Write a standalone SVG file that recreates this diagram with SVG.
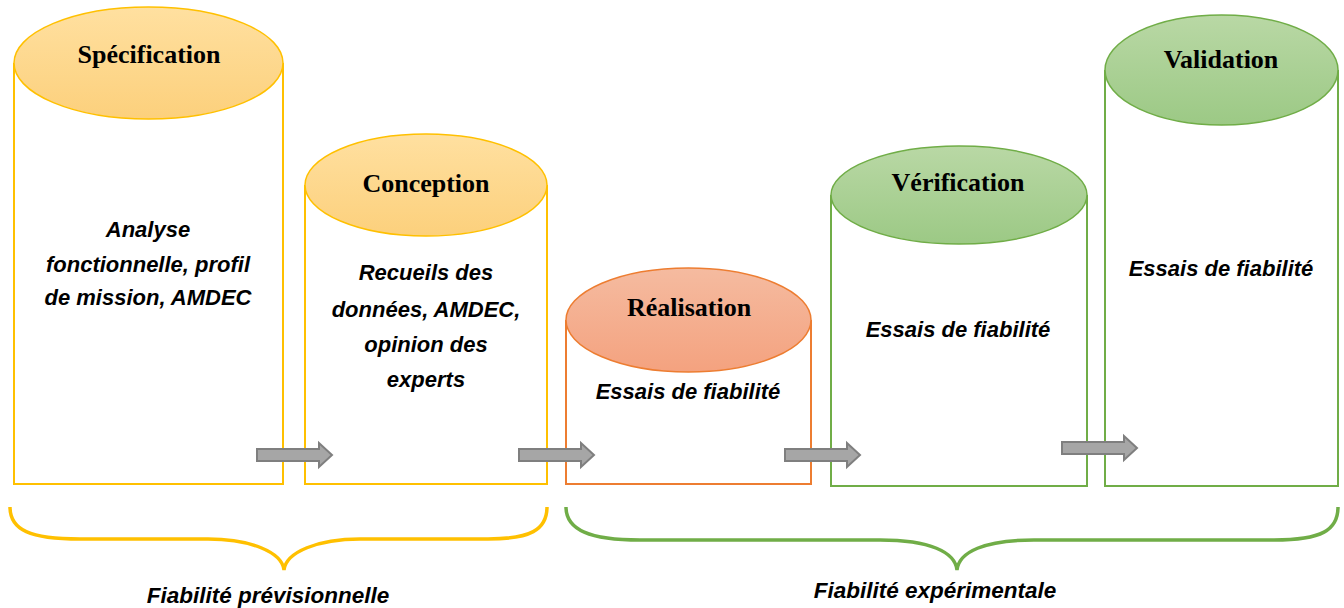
<svg xmlns="http://www.w3.org/2000/svg" width="1344" height="608" viewBox="0 0 1344 608">
<defs>
<linearGradient id="gy" x1="0" y1="0" x2="0" y2="1"><stop offset="0" stop-color="#FFE0A0"/><stop offset="1" stop-color="#FCD07C"/></linearGradient>
<linearGradient id="go" x1="0" y1="0" x2="0" y2="1"><stop offset="0" stop-color="#F5BBA0"/><stop offset="1" stop-color="#F4A27F"/></linearGradient>
<linearGradient id="gg" x1="0" y1="0" x2="0" y2="1"><stop offset="0" stop-color="#B9D8A5"/><stop offset="1" stop-color="#9CC985"/></linearGradient>
<path id="arr" d="M0,-6 H62 V-12 L75,0 L62,12 V6 H0 Z"/>
</defs>
<style>
.y{stroke:#FFC000}.o{stroke:#ED7D31}.g{stroke:#70AD47}
.body{fill:none;stroke-width:2}
.cap{stroke-width:1.5}
.t{font-family:"Liberation Serif","Times New Roman",serif;font-weight:bold;font-size:26px;text-anchor:middle;fill:#000}
.d{font-family:"Liberation Sans",Arial,sans-serif;font-weight:bold;font-style:italic;font-size:22px;text-anchor:middle;fill:#000}
.f{font-size:22.5px}
.a{fill:#A6A6A6;stroke:#7F7F7F;stroke-width:2}
.br{fill:none;stroke-width:3.5}
</style>
<rect width="1344" height="608" fill="#fff"/>
<g id="specification">
<path class="body y" d="M14,63 V484 H283 V63"/>
<ellipse class="cap y" cx="148.5" cy="63" rx="134.5" ry="56" fill="url(#gy)"/>
<text class="t" x="149" y="63">Spécification</text>
<text class="d" x="148" y="237">Analyse</text>
<text class="d" x="148" y="272">fonctionnelle, profil</text>
<text class="d" x="148" y="305">de mission, AMDEC</text>
</g>
<g id="conception">
<path class="body y" d="M305,185 V484 H547 V185"/>
<ellipse class="cap y" cx="426" cy="185" rx="121" ry="51" fill="url(#gy)"/>
<text class="t" x="426" y="192">Conception</text>
<text class="d" x="426" y="280">Recueils des</text>
<text class="d" x="426" y="317">données, AMDEC,</text>
<text class="d" x="426" y="352">opinion des</text>
<text class="d" x="426" y="387">experts</text>
</g>
<g id="realisation">
<path class="body o" d="M566,320 V484 H811 V320"/>
<ellipse class="cap o" cx="688.5" cy="320" rx="122.5" ry="52" fill="url(#go)"/>
<text class="t" x="689" y="316">Réalisation</text>
<text class="d" x="688" y="399">Essais de fiabilité</text>
</g>
<g id="verification">
<path class="body g" d="M831,195 V486 H1087 V195"/>
<ellipse class="cap g" cx="959" cy="195" rx="128" ry="49" fill="url(#gg)"/>
<text class="t" x="958" y="191">Vérification</text>
<text class="d" x="958" y="337">Essais de fiabilité</text>
</g>
<g id="validation">
<path class="body g" d="M1105,70 V486 H1338 V70"/>
<ellipse class="cap g" cx="1221.5" cy="70" rx="116.5" ry="55" fill="url(#gg)"/>
<text class="t" x="1221" y="68">Validation</text>
<text class="d" x="1221" y="276">Essais de fiabilité</text>
</g>
<g id="connectors">
<use href="#arr" class="a" x="257" y="455"/>
<use href="#arr" class="a" x="519" y="455"/>
<use href="#arr" class="a" x="785" y="455"/>
<use href="#arr" class="a" x="1062" y="448"/>
</g>
<g id="brace-previsionnelle">
<path class="br y" d="M10,507 C10,530 30,539 80,539 H208 C250,539 282,552 284,570 C286,552 318,539 360,539 H488 C530,539 547,530 547,507"/>
<text class="d f" x="268" y="603">Fiabilité prévisionnelle</text>
</g>
<g id="brace-experimentale">
<path class="br g" d="M566,507 C566,530 590,540 640,540 H880 C930,540 955,552 957,570 C959,552 984,540 1034,540 H1274 C1322,540 1338,530 1338,507"/>
<text class="d f" x="935" y="598">Fiabilité expérimentale</text>
</g>
</svg>
